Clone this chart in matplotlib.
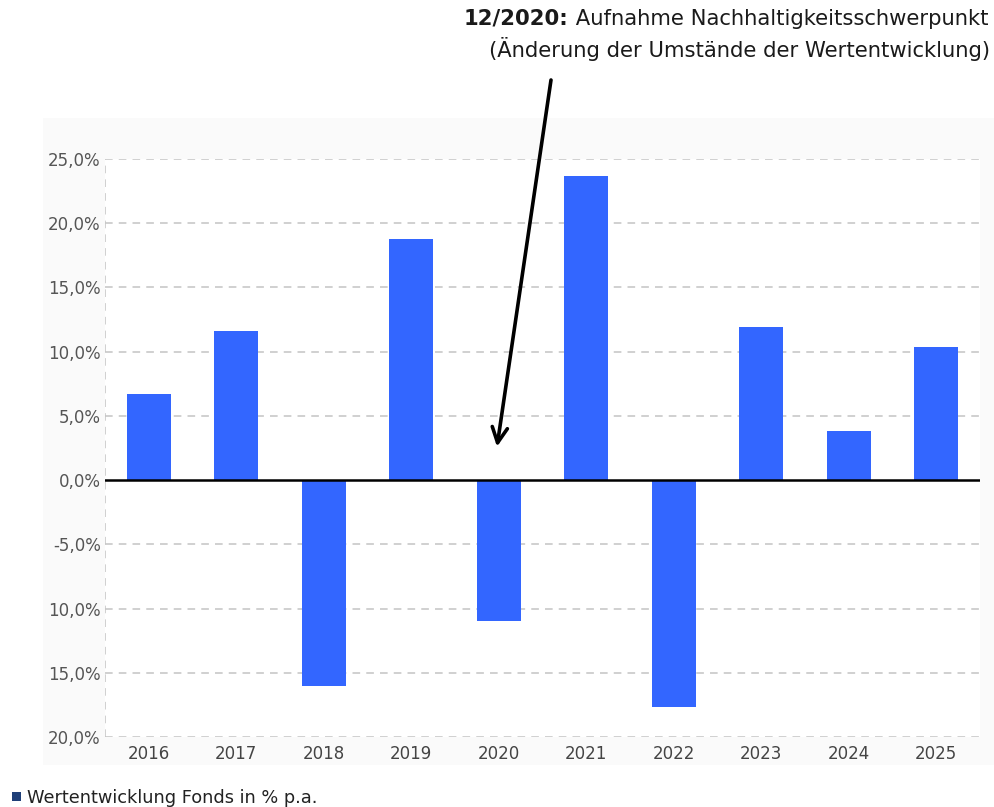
import matplotlib
matplotlib.use("Agg")
import matplotlib.pyplot as plt
from matplotlib.patches import Rectangle

years = ["2016", "2017", "2018", "2019", "2020", "2021", "2022", "2023", "2024", "2025"]
returns = [6.7, 11.6, -16.0, 18.8, -11.0, 23.7, -17.7, 11.9, 3.8, 10.4]
y_ticks = [25, 20, 15, 10, 5, 0, -5, -10, -15, -20]
y_tick_labels = ["25,0%", "20,0%", "15,0%", "10,0%", "5,0%", "0,0%",
                 "-5,0%", "10,0%", "15,0%", "20,0%"]
note_bold = "12/2020:"
note_line1 = " Aufnahme Nachhaltigkeitsschwerpunkt"
note_line2 = "(Änderung der Umstände der Wertentwicklung)"
legend_label = "Wertentwicklung Fonds in % p.a."

W, H = 995, 807
fig = plt.figure(figsize=(W / 100, H / 100), dpi=100)
fig.patch.set_facecolor("white")

# faint chart panel behind the axes
fig.patches.append(Rectangle((43 / W, 1 - 765 / H), (W - 43) / W, (765 - 118) / H,
                             transform=fig.transFigure, facecolor="#fafafa",
                             edgecolor="none", zorder=-10))

ax = fig.add_axes([105 / W, 1 - 737 / H, (980 - 105) / W, (737 - 159) / H])
ax.set_facecolor("white")

x = range(len(years))
ax.bar(x, returns, width=0.5, color="#3366ff", zorder=3)
ax.set_xlim(-0.5, len(years) - 0.5)
ax.set_ylim(-20, 25)

for t in y_ticks:
    if t != 0:
        ax.axhline(t, color="#c4c4c4", lw=1.1, ls=(0, (5, 4)), zorder=1)
ax.axhline(0, color="black", lw=1.8, zorder=4)
ax.axvline(-0.5, color="#c4c4c4", lw=1.1, ls=(0, (5, 4)), zorder=1)

for s in ax.spines.values():
    s.set_visible(False)

ax.set_yticks(y_ticks)
ax.set_yticklabels(y_tick_labels, fontsize=12, color="#555555", family="DejaVu Sans")
ax.set_xticks(list(x))
ax.set_xticklabels(years, fontsize=12, color="#444444", family="DejaVu Sans")
ax.tick_params(length=0, pad=3)
ax.tick_params(axis="x", pad=6)

# annotation arrow
ax.annotate("", xy=(3.98, 2.6), xycoords="data",
            xytext=(551 / W, 1 - 80 / H), textcoords="figure fraction",
            arrowprops=dict(arrowstyle="->,head_length=1.1,head_width=0.55",
                            color="black", lw=2.6, shrinkA=0, shrinkB=0))

note_font = "DejaVu Sans"
fs = 13
t2 = fig.text(0.995, 1 - 57 / H, note_line2, ha="right", va="baseline",
              fontsize=fs, family=note_font, color="#1a1a1a")
fig.canvas.draw()
w2 = t2.get_window_extent().width
fs = fs * 500 / w2
t2.set_fontsize(fs)
t1 = fig.text(0.993, 1 - 25 / H, note_line1, ha="right", va="baseline",
              fontsize=fs, family=note_font, color="#1a1a1a")
fig.canvas.draw()
bb = t1.get_window_extent()
fig.text(bb.x0 / W, 1 - 25 / H, note_bold, ha="right", va="baseline",
         fontsize=fs, family=note_font, fontweight="bold", color="#1a1a1a")

# legend
fig.patches.append(Rectangle((12 / W, 1 - 801 / H), 9 / W, 9 / H,
                             transform=fig.transFigure, facecolor="#1f3f78",
                             edgecolor="none"))
fig.text(27 / W, 1 - 803 / H, legend_label, ha="left", va="baseline",
         fontsize=fs * 0.84, family=note_font, color="#222222")

fig.savefig("out.png", dpi=100)
